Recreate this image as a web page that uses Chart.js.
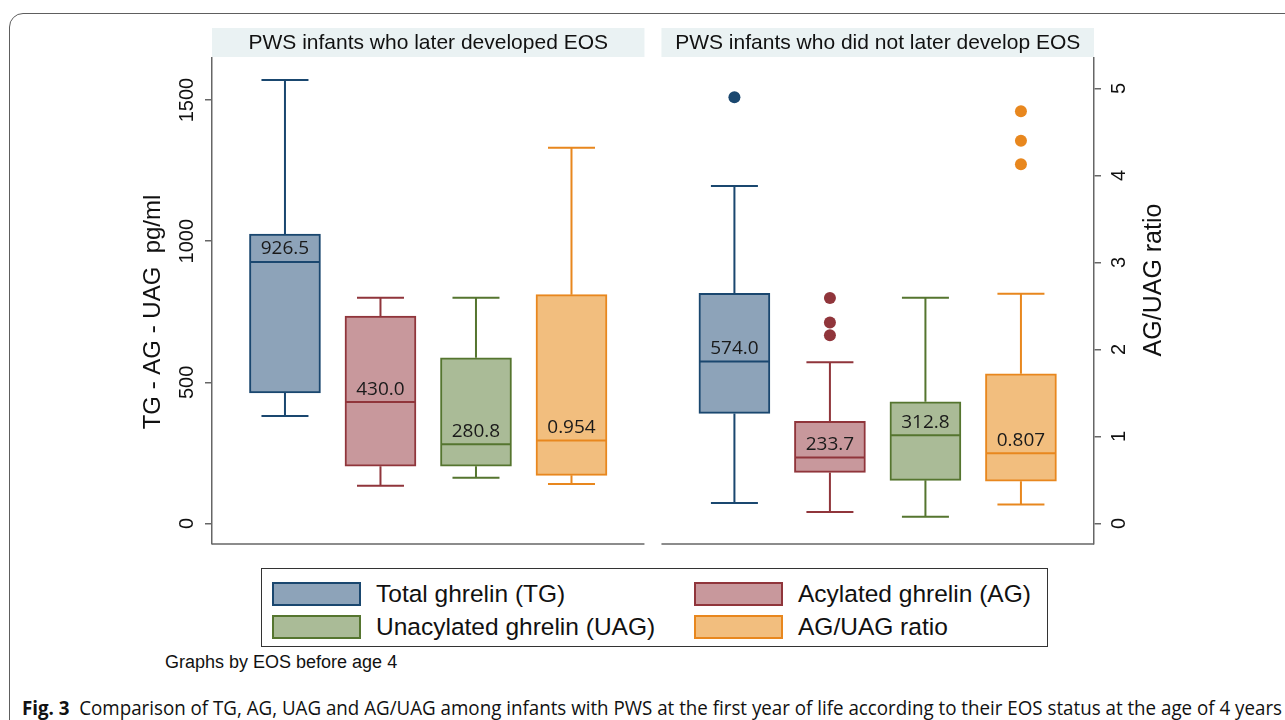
<!DOCTYPE html>
<html>
<head>
<meta charset="utf-8">
<script src="https://cdn.jsdelivr.net/npm/chart.js@4.4.1/dist/chart.umd.min.js"></script>
<style>
  html, body { margin: 0; padding: 0; background: #fff; }
  #wrap { position: relative; width: 1285px; height: 720px; overflow: hidden;
          font-family: "Liberation Sans", Arial, sans-serif; color: #111; }
  #frame { position: absolute; left: 9px; top: 13px; width: 1400px; height: 800px;
           border: 1.5px solid #5e5e5e; border-radius: 14px 0 0 0; }
  #chartBox { position: absolute; left: 0; top: 0; width: 1285px; height: 560px; }
  #legend { position: absolute; left: 261px; top: 568px; width: 787px; height: 79px;
            border: 1px solid #333; box-sizing: border-box; }
  .item { position: absolute; display: flex; align-items: center; font-size: 24.5px; white-space: nowrap; }
  .sw { width: 89px; height: 24px; box-sizing: border-box; border: 2px solid; margin-right: 15px; }
  #byNote { position: absolute; left: 165px; top: 652px; font-size: 18px; }
  #caption { position: absolute; left: 22px; top: 694px; font-size: 20px; white-space: nowrap;
             transform-origin: left center; font-family: "Liberation Sans Narrow", "Open Sans", sans-serif; }
  #caption b { font-family: "Open Sans", sans-serif; font-weight: 700; }
</style>
</head>
<body>
<div id="wrap">
  <div id="frame"></div>
  <div id="chartBox"><canvas id="boxChart" width="1285" height="560"></canvas></div>
  <div id="legend"></div>
  <div id="byNote">Graphs by EOS before age 4</div>
  <div id="caption"><b>Fig. 3</b>&nbsp; Comparison of TG, AG, UAG and AG/UAG among infants with PWS at the first year of life according to their EOS status at the age of 4 years</div>
</div>
<script>
// panels (by EOS status) and the four measures
const groups = ["PWS infants who later developed EOS", "PWS infants who did not later develop EOS"];
const seriesNames = ["Total ghrelin (TG)", "Acylated ghrelin (AG)", "Unacylated ghrelin (UAG)", "AG/UAG ratio"];

// box plot summaries, one value per panel: [developed EOS, no EOS]
const tgLow  = [381, 73];
const tgQ1   = [463, 390];
const tgMed  = [926.5, 574.0];
const tgQ3   = [1025, 815];
const tgHigh = [1571, 1196];
const tgOut  = [[], [1510]];

const agLow  = [134, 41];
const agQ1   = [203, 181];
const agMed  = [430.0, 233.7];
const agQ3   = [735, 362];
const agHigh = [800, 571];
const agOut  = [[], [799, 712, 667]];

const uagLow  = [162, 24];
const uagQ1   = [203, 153];
const uagMed  = [280.8, 312.8];
const uagQ3   = [587, 431];
const uagHigh = [800, 800];
const uagOut  = [[], []];

const ratioLow  = [0.455, 0.217];
const ratioQ1   = [0.553, 0.486];
const ratioMed  = [0.954, 0.807];
const ratioQ3   = [2.63, 1.72];
const ratioHigh = [4.32, 2.64];
const ratioOut  = [[], [4.74, 4.40, 4.13]];

// median labels as printed on the boxes
const medLabels = [["926.5", "574.0"], ["430.0", "233.7"], ["280.8", "312.8"], ["0.954", "0.807"]];

// tick labels
const leftTicks  = [0, 500, 1000, 1500];
const rightTicks = [0, 1, 2, 3, 4, 5];

// styling
const lineColors = ["#1a476f", "#90353b", "#55752f", "#e8871e"];
const fillColors = ["#8da3b9", "#c8989c", "#aabb97", "#f2be7e"];
const axisIds    = ["y", "y", "y", "y2"];
const groupStep  = 4.706;          // x offset of the second panel, in box spacings
const panelSpan  = [[-0.764, 3.764], [3.942, 8.471]];
const boxW = 71, capW = 47;

const stats = [
  { low: tgLow, q1: tgQ1, med: tgMed, q3: tgQ3, high: tgHigh, out: tgOut },
  { low: agLow, q1: agQ1, med: agMed, q3: agQ3, high: agHigh, out: agOut },
  { low: uagLow, q1: uagQ1, med: uagMed, q3: uagQ3, high: uagHigh, out: uagOut },
  { low: ratioLow, q1: ratioQ1, med: ratioMed, q3: ratioQ3, high: ratioHigh, out: ratioOut }
];

const pos = (i, j) => i + j * groupStep;

// boxes as floating bars
const boxSets = stats.map((s, i) => ({
  type: "bar",
  label: seriesNames[i],
  data: groups.map((g, j) => ({ x: pos(i, j), y: [s.q1[j], s.q3[j]] })),
  yAxisID: axisIds[i],
  backgroundColor: fillColors[i],
  borderColor: lineColors[i],
  borderWidth: 2,
  borderSkipped: false,
  barThickness: boxW,
  grouped: false,
  order: 2
}));

// outside values as points
const outSets = stats.map((s, i) => ({
  type: "scatter",
  label: seriesNames[i] + " outliers",
  data: groups.flatMap((g, j) => s.out[j].map(v => ({ x: pos(i, j), y: v }))),
  yAxisID: axisIds[i],
  backgroundColor: lineColors[i],
  borderWidth: 0,
  pointRadius: 6,
  order: 1
}));

// whiskers, medians, strips, tick labels, titles
const boxExtras = {
  id: "boxExtras",
  beforeDatasetsDraw(chart) {
    const { ctx, chartArea, scales } = chart;
    const xs = scales.x;
    ctx.save();
    panelSpan.forEach((span, j) => {
      const x0 = xs.getPixelForValue(span[0]);
      const x1 = xs.getPixelForValue(span[1]);
      ctx.fillStyle = "#eaf2f3";
      ctx.fillRect(x0, 28, x1 - x0, 29);
      ctx.fillStyle = "#111";
      ctx.font = "21px 'Liberation Sans', Arial, sans-serif";
      ctx.textAlign = "center";
      ctx.textBaseline = "middle";
      ctx.fillText(groups[j], (x0 + x1) / 2, 43);
      ctx.strokeStyle = "#666";
      ctx.lineWidth = 1.5;
      ctx.beginPath();
      ctx.moveTo(x0, chartArea.bottom);
      ctx.lineTo(x1, chartArea.bottom);
      ctx.stroke();
    });
    // whiskers
    stats.forEach((s, i) => {
      const ys = scales[axisIds[i]];
      ctx.strokeStyle = lineColors[i];
      ctx.lineWidth = 2;
      groups.forEach((g, j) => {
        const xc = xs.getPixelForValue(pos(i, j));
        ctx.beginPath();
        ctx.moveTo(xc, ys.getPixelForValue(s.q3[j]));
        ctx.lineTo(xc, ys.getPixelForValue(s.high[j]));
        ctx.moveTo(xc - capW / 2, ys.getPixelForValue(s.high[j]));
        ctx.lineTo(xc + capW / 2, ys.getPixelForValue(s.high[j]));
        ctx.moveTo(xc, ys.getPixelForValue(s.q1[j]));
        ctx.lineTo(xc, ys.getPixelForValue(s.low[j]));
        ctx.moveTo(xc - capW / 2, ys.getPixelForValue(s.low[j]));
        ctx.lineTo(xc + capW / 2, ys.getPixelForValue(s.low[j]));
        ctx.stroke();
      });
    });
    ctx.restore();
  },
  afterDatasetsDraw(chart) {
    const { ctx, scales } = chart;
    const xs = scales.x;
    ctx.save();
    stats.forEach((s, i) => {
      const ys = scales[axisIds[i]];
      groups.forEach((g, j) => {
        const xc = xs.getPixelForValue(pos(i, j));
        const ym = ys.getPixelForValue(s.med[j]);
        ctx.strokeStyle = lineColors[i];
        ctx.lineWidth = 2;
        ctx.beginPath();
        ctx.moveTo(xc - boxW / 2 + 1, ym);
        ctx.lineTo(xc + boxW / 2 - 1, ym);
        ctx.stroke();
        ctx.fillStyle = "#1a1a1a";
        ctx.font = "19px 'Open Sans', sans-serif";
        ctx.textAlign = "center";
        ctx.textBaseline = "middle";
        ctx.fillText(medLabels[i][j], xc, ym - 13);
      });
    });
    ctx.restore();
  },
  afterDraw(chart) {
    const { ctx, scales } = chart;
    ctx.save();
    ctx.fillStyle = "#111";
    ctx.textAlign = "center";
    ctx.textBaseline = "middle";
    ctx.font = "20px 'Liberation Sans', Arial, sans-serif";
    const vtext = (t, x, y) => {
      ctx.save();
      ctx.translate(x, y);
      ctx.rotate(-Math.PI / 2);
      ctx.fillText(t, 0, 0);
      ctx.restore();
    };
    scales.y.ticks.forEach(t => vtext(String(t.value), 187, scales.y.getPixelForValue(t.value)));
    scales.y2.ticks.forEach(t => vtext(String(t.value), 1119, scales.y2.getPixelForValue(t.value)));
    ctx.font = "24px 'Liberation Sans', Arial, sans-serif";
    vtext("TG - AG - UAG  pg/ml", 153, 312);
    ctx.font = "25px 'Liberation Sans', Arial, sans-serif";
    vtext("AG/UAG ratio", 1154, 280);
    ctx.restore();
  }
};

const axisLine = { color: "#666", width: 1.5 };
const tickGrid = { drawOnChartArea: false, drawTicks: true, tickLength: 7, color: "#666", lineWidth: 1.5 };

new Chart(document.getElementById("boxChart"), {
  type: "bar",
  data: { datasets: [...outSets, ...boxSets] },
  options: {
    responsive: false,
    animation: false,
    events: [],
    layout: { padding: { left: 205, right: 184, top: 58, bottom: 16 } },
    plugins: { legend: { display: false }, tooltip: { enabled: false } },
    scales: {
      x: { type: "linear", offset: false, min: panelSpan[0][0], max: panelSpan[1][1], display: false },
      y: {
        type: "linear", position: "left", min: -72.6, max: 1649,
        afterBuildTicks: s => { s.ticks = leftTicks.map(v => ({ value: v })); },
        ticks: { display: false }, grid: tickGrid, border: axisLine
      },
      y2: {
        type: "linear", position: "right", min: -0.236, max: 5.351,
        afterBuildTicks: s => { s.ticks = rightTicks.map(v => ({ value: v })); },
        ticks: { display: false }, grid: tickGrid, border: axisLine
      }
    }
  },
  plugins: [boxExtras]
});

// legend in a 2 x 2 grid, as in the figure
const legend = document.getElementById("legend");
const legendPos = [[10, 11], [432, 11], [10, 44], [432, 44]];
seriesNames.forEach((name, i) => {
  const item = document.createElement("div");
  item.className = "item";
  item.style.left = legendPos[i][0] + "px";
  item.style.top = legendPos[i][1] + "px";
  const sw = document.createElement("span");
  sw.className = "sw";
  sw.style.background = fillColors[i];
  sw.style.borderColor = lineColors[i];
  item.appendChild(sw);
  item.appendChild(document.createTextNode(name));
  legend.appendChild(item);
});

// squeeze the caption into the width used by the figure
const cap = document.getElementById("caption");
const capW0 = cap.getBoundingClientRect().width;
cap.style.transform = "scaleX(" + Math.min(1, 1260 / capW0) + ")";
</script>
</body>
</html>
